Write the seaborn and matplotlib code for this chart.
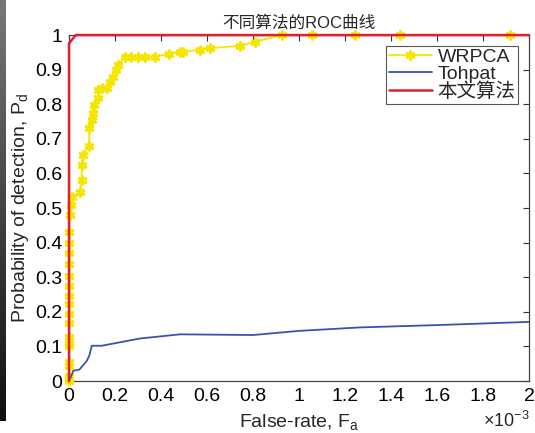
import numpy as np
import pandas as pd
import matplotlib
matplotlib.use("Agg")
import matplotlib.pyplot as plt
from matplotlib.ticker import FuncFormatter
import seaborn as sns

# False-alarm rate in units of 1e-3, detection probability
wrpca_fa = [0, 0, 0, 0, 0, 0, 0, 0, 0, 0, 0, 0, 0, 0, 0, 0, 0, 0,
            0.003, 0.008, 0.013, 0.048, 0.055, 0.055, 0.061, 0.087, 0.089,
            0.099, 0.104, 0.109, 0.126, 0.126, 0.142, 0.164, 0.178, 0.193,
            0.204, 0.213, 0.243, 0.270, 0.300, 0.330, 0.374, 0.435, 0.483,
            0.497, 0.570, 0.613, 0.743, 0.809, 0.925, 1.055, 1.243, 1.440,
            1.917]
wrpca_pd = [0, 0.006, 0.014, 0.044, 0.054, 0.102, 0.111, 0.127, 0.169,
            0.193, 0.222, 0.246, 0.275, 0.303, 0.337, 0.371, 0.400, 0.430,
            0.481, 0.510, 0.533, 0.545, 0.582, 0.625, 0.654, 0.680, 0.732,
            0.755, 0.775, 0.798, 0.818, 0.841, 0.847, 0.847, 0.864, 0.879,
            0.899, 0.914, 0.937, 0.937, 0.937, 0.937, 0.937, 0.946, 0.951,
            0.951, 0.958, 0.962, 0.969, 0.981, 1.0, 1.0, 1.0, 1.0, 1.0]

tohpat_fa = [0, 0.004, 0.019, 0.045, 0.077, 0.088, 0.099, 0.142, 0.309,
             0.483, 0.800, 1.000, 1.265, 1.613, 2.000]
tohpat_pd = [0, 0.006, 0.030, 0.033, 0.058, 0.073, 0.102, 0.102, 0.123,
             0.135, 0.133, 0.145, 0.155, 0.162, 0.171]

ours_fa = [0, 0, 0.029, 2.0]
ours_pd = [0, 0.976, 1.0, 1.0]

labels = ["WRPCA", "Tohpat", "本文算法"]
x_ticks = [0, 0.2, 0.4, 0.6, 0.8, 1, 1.2, 1.4, 1.6, 1.8, 2]
y_ticks = [0, 0.1, 0.2, 0.3, 0.4, 0.5, 0.6, 0.7, 0.8, 0.9, 1]

sns.set_style("white")
plt.rcParams["font.family"] = ["Liberation Sans", "Noto Sans CJK SC"]
plt.rcParams["mathtext.fontset"] = "custom"
plt.rcParams["mathtext.rm"] = "Liberation Sans"
plt.rcParams["mathtext.it"] = "Liberation Sans"

fig = plt.figure(figsize=(5.35, 4.33), dpi=100)
ax = fig.add_axes([0.129, 0.120, 0.860, 0.799])

# dark scanned edge strip on the far left
strip = fig.add_axes([0, 0.027, 0.0095, 0.973])
grad = np.linspace(0.47, 0.06, 200).reshape(-1, 1)
strip.imshow(grad, cmap="gray", vmin=0, vmax=1, aspect="auto")
strip.axis("off")

df_w = pd.DataFrame({"fa": wrpca_fa, "pd": wrpca_pd})
df_t = pd.DataFrame({"fa": tohpat_fa, "pd": tohpat_pd})
df_o = pd.DataFrame({"fa": ours_fa, "pd": ours_pd})

# asterisk markers, MATLAB style
sns.lineplot(data=df_w, x="fa", y="pd", ax=ax, sort=False, estimator=None,
             color="#f4e600", lw=1.3, marker=(6, 2, 0), markersize=7,
             markeredgewidth=2.0, markeredgecolor="#f4e600",
             label=labels[0], zorder=3, clip_on=False)
sns.lineplot(data=df_t, x="fa", y="pd", ax=ax, sort=False, estimator=None,
             color="#3c52b3", lw=1.3, label=labels[1], zorder=4)
sns.lineplot(data=df_o, x="fa", y="pd", ax=ax, sort=False, estimator=None,
             color="#e0202c", lw=1.8, label=labels[2], zorder=5,
             clip_on=False)

ax.set_xlim(0, 2)
ax.set_ylim(0, 1)
ax.set_xticks(x_ticks)
ax.set_yticks(y_ticks)
fmt = FuncFormatter(lambda v, p: f"{v:g}")
ax.xaxis.set_major_formatter(fmt)
ax.yaxis.set_major_formatter(fmt)
ax.tick_params(direction="in", length=4, width=0.8, top=True, right=True,
               labelsize=14, colors="#333333", labelcolor="black", pad=5)
for s in ax.spines.values():
    s.set_color("#444444")
    s.set_linewidth(0.9)

ax.set_xlabel("False-rate, F$_a$", fontsize=14, labelpad=5)
ax.set_ylabel("Probability of detection, P$_d$", fontsize=14, labelpad=3)
ax.set_title("不同算法的ROC曲线", fontsize=12, pad=5)
ax.text(1.0, -0.133, r"×10$^{-3}$", transform=ax.transAxes, ha="right",
        va="baseline", fontsize=13)

leg = ax.legend(loc="upper right", fontsize=14, frameon=True, fancybox=False,
                framealpha=1, edgecolor="#555555", borderaxespad=0.55,
                labelspacing=-0.05, handlelength=2.2, handletextpad=0.3,
                borderpad=0.15)
leg.get_frame().set_linewidth(0.8)
leg.set_zorder(10)

fig.savefig("out.png", dpi=100)
